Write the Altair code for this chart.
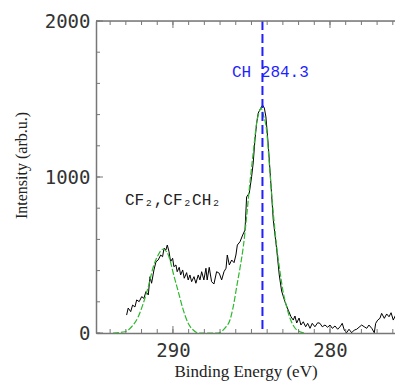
import altair as alt
import pandas as pd

# --- measured spectrum (Binding energy in eV, intensity in arb. units) ---
energy = [292.95, 292.85, 292.69, 292.57, 292.42, 292.31, 292.15, 291.99, 291.85, 291.72,
          291.57, 291.46, 291.36, 291.21, 291.08, 290.94, 290.78, 290.66, 290.57, 290.45,
          290.36, 290.25, 290.15, 290.02, 289.94, 289.81, 289.73, 289.60, 289.51, 289.38,
          289.28, 289.13, 289.03, 288.92, 288.81, 288.66, 288.54, 288.39, 288.28, 288.17,
          288.03, 287.90, 287.82, 287.69, 287.54, 287.39, 287.22, 287.05, 286.90, 286.75,
          286.62, 286.54, 286.41, 286.26, 286.11, 285.99, 285.90, 285.73, 285.56, 285.41,
          285.31, 285.14, 284.99, 284.89, 284.78, 284.67, 284.57, 284.41, 284.29, 284.18,
          284.08, 283.93, 283.78, 283.61, 283.39, 283.23, 283.08, 282.87, 282.66, 282.48,
          282.34, 282.23, 282.12, 281.97, 281.85, 281.70, 281.55, 281.42, 281.27, 281.13,
          280.96, 280.78, 280.64, 280.49, 280.32, 280.15, 280.00, 279.85, 279.68, 279.51,
          279.36, 279.22, 279.09, 278.94, 278.79, 278.62, 278.45, 278.30, 278.15, 277.98,
          277.82, 277.66, 277.52, 277.34, 277.18, 277.09, 276.96, 276.82, 276.71, 276.54,
          276.39, 276.24, 276.11, 275.97, 275.82, 275.69, 275.54, 275.39]
intensity = [115, 160, 137, 179, 167, 212, 201, 233, 222, 265,
             244, 361, 319, 404, 457, 468, 500, 489, 543, 532,
             564, 521, 457, 479, 425, 436, 393, 421, 372, 404,
             351, 387, 340, 372, 329, 361, 319, 372, 340, 393,
             340, 415, 340, 421, 329, 314, 393, 383, 340, 393,
             415, 500, 436, 468, 451, 500, 564, 585, 628, 660,
             872, 897, 1002, 1090, 1237, 1346, 1410, 1442, 1461, 1442,
             1385, 1205, 981, 724, 532, 372, 269, 201, 147, 104,
             83, 109, 64, 96, 51, 72, 40, 62, 30, 62,
             40, 66, 62, 40, 51, 37, 51, 30, 45, 24,
             40, 62, 19, 2, 24, 2, 19, 24, 37, 51,
             40, 30, 51, 30, 2, 62, 83, 94, 126, 94,
             122, 104, 130, 83, 115, 83, 104, 79]

# --- fitted components (green dashed) ---
fit_energy = [293.82, 293.06, 292.63, 292.21, 291.89, 291.57, 291.25, 290.94, 290.66, 290.40,
              290.19, 289.98, 289.66, 289.34, 289.03, 288.71, 288.39, 287.75, 287.11, 286.69,
              286.37, 286.16, 285.94, 285.73, 285.52, 285.31, 285.10, 284.89, 284.67, 284.46,
              284.40, 284.24, 284.04, 283.82, 283.61, 283.39, 283.18, 282.97, 282.76, 282.55,
              282.23, 281.91, 281.59]
fit_intensity = [0, 8, 40, 104, 190, 297, 425, 500, 537, 521,
                 468, 383, 265, 147, 62, 19, 0, 0, 0, 32,
                 83, 169, 297, 417, 553, 745, 962, 1154, 1346, 1429,
                 1442, 1397, 1301, 1026, 769, 551, 391, 256, 167, 96,
                 32, 8, 0]

ch_position = [284.3]
x_label_values = [290, 280]
y_label_values = [0, 1000, 2000]
x_minor_ticks = list(range(276, 295))
x_major_ticks = [290, 280]
y_minor_ticks = list(range(0, 2001, 200))
y_major_ticks = [0, 1000, 2000]

annot_text = ["CH 284.3", "CF\u2082,CF\u2082CH\u2082"]
annot_x = [286.24, 293.06]
annot_y = [1641, 820]
annot_color = ["#1f1fff", "#222222"]

W, H = 299, 312
AX = "#777777"
xscale = alt.Scale(domain=[275.86, 294.9], reverse=True, nice=False, zero=False)
yscale = alt.Scale(domain=[0, 2000], nice=False)

spec_df = pd.DataFrame({"E": energy, "I": intensity})
fit_df = pd.DataFrame({"E": fit_energy, "I": fit_intensity})
ch_df = pd.DataFrame({"E": ch_position})
xmin_df = pd.DataFrame({"E": x_minor_ticks})
xmaj_df = pd.DataFrame({"E": x_major_ticks})
ymin_df = pd.DataFrame({"I": y_minor_ticks})
ymaj_df = pd.DataFrame({"I": y_major_ticks})
ann_df = pd.DataFrame({"E": annot_x, "I": annot_y, "t": annot_text, "c": annot_color})

x_axis = alt.Axis(values=x_label_values, title="Binding Energy (eV)", ticks=False, grid=False,
                  labelFont="DejaVu Sans Mono", labelFontSize=19, labelColor="#333",
                  labelPadding=8, domainColor=AX, domainWidth=1.5, format="d",
                  titleFont="Liberation Serif", titleFontSize=17, titleFontWeight="normal",
                  titleColor="#222", titleY=43, titleBaseline="alphabetic")
y_axis = alt.Axis(values=y_label_values, title="Intensity (arb.u.)", ticks=False, grid=False,
                  labelFont="DejaVu Sans Mono", labelFontSize=19, labelColor="#333",
                  labelPadding=6, domainColor=AX, domainWidth=1.5, format="d",
                  titleFont="Liberation Serif", titleFontSize=16, titleFontWeight="normal",
                  titleColor="#222", titleX=-67, titleY=144)

X = alt.X("E:Q", scale=xscale, axis=x_axis)
Y = alt.Y("I:Q", scale=yscale, axis=y_axis)

spectrum = alt.Chart(spec_df).mark_line(color="black", strokeWidth=1, clip=True).encode(
    x=X, y=Y, order="E:Q")

fit = alt.Chart(fit_df).mark_line(color="#2db82d", strokeWidth=1.2, strokeDash=[6, 2],
                                  interpolate="monotone", clip=True).encode(x=X, y=Y)

ch_line = alt.Chart(ch_df).mark_rule(color="#1f1fff", strokeWidth=2, strokeDash=[9, 4]).encode(x=X)

top_border = alt.Chart(ch_df).mark_rule(color=AX, strokeWidth=1.5).encode(
    x=alt.value(0), x2=alt.value(W), y=alt.value(0))

def xticks(df, y0, y1):
    return alt.Chart(df).mark_rule(color=AX, strokeWidth=1).encode(
        x=X, y=alt.value(y0), y2=alt.value(y1))

def yticks(df, x0, x1):
    return alt.Chart(df).mark_rule(color=AX, strokeWidth=1).encode(
        y=Y, x=alt.value(x0), x2=alt.value(x1))

ticks = [
    xticks(xmin_df, H, H - 4), xticks(xmaj_df, H, H - 7),
    xticks(xmin_df, 0, 4), xticks(xmaj_df, 0, 7),
    yticks(ymin_df, 0, 4), yticks(ymaj_df, 0, 7),
]

labels = alt.Chart(ann_df).mark_text(align="left", baseline="alphabetic",
                                     font="Liberation Mono", fontSize=16).encode(
    x=X, y=Y, text="t:N", color=alt.Color("c:N", scale=None))

chart = alt.layer(spectrum, fit, ch_line, top_border, *ticks, labels).properties(
    width=W, height=H,
    autosize=alt.AutoSizeParams(type="none"),
    padding={"left": 88, "top": 13, "right": 0, "bottom": 49},
).configure_view(stroke=None).configure(background="white")

chart.save("out.html", embed_options={"renderer": "svg", "actions": False})
